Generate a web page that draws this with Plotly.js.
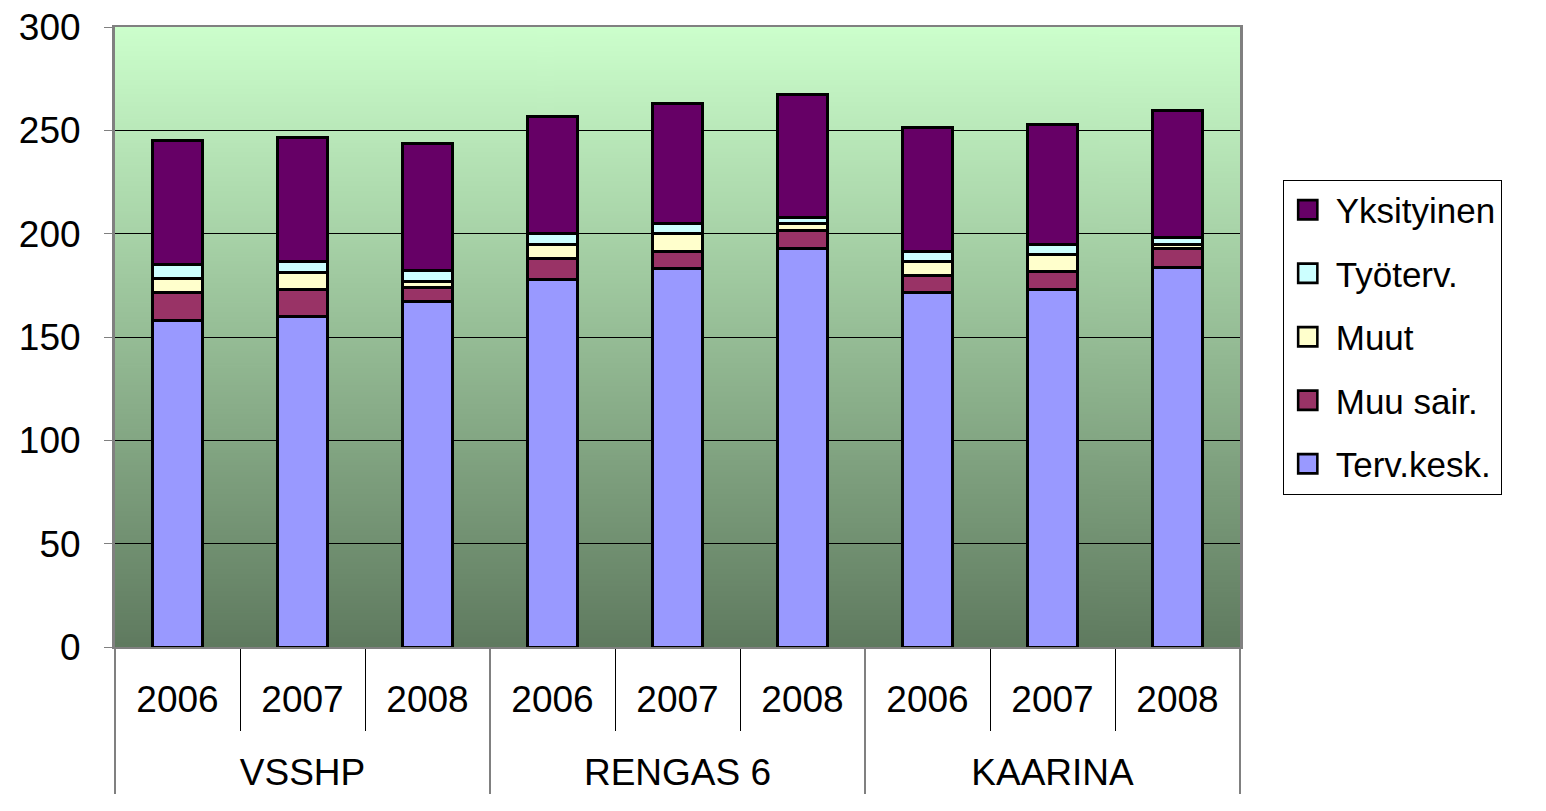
<!DOCTYPE html>
<html>
<head>
<meta charset="utf-8">
<script src="https://cdn.plot.ly/plotly-3.0.1.min.js"></script>
<style>html,body{margin:0;padding:0;background:#fff;}#chart{width:1546px;height:811px;}</style>
</head>
<body>
<div id="chart"></div>
<script>
const groups = ["VSSHP","VSSHP","VSSHP","RENGAS 6","RENGAS 6","RENGAS 6","KAARINA","KAARINA","KAARINA"];
const years = ["2006","2007","2008","2006","2007","2008","2006","2007","2008"];
const tervKesk   = [158, 160, 167, 178, 183, 193, 171.5, 173, 183.5];
const muuSair    = [13.5, 13, 7, 10, 8.5, 8.5, 8.5, 8.5, 9.5];
const muut       = [7, 8, 3, 7, 8.5, 3.5, 6.5, 8.5, 2];
const tyoterv    = [6.5, 5.5, 5, 5, 5, 3, 5, 5, 3];
const yksityinen = [60, 60, 61.5, 56.5, 58, 59.5, 60, 58, 61.5];
const seriesNames = ["Terv.kesk.","Muu sair.","Muut","Työterv.","Yksityinen"];
const seriesColors = ["#9999FF","#993366","#FFFFCC","#CCFFFF","#660066"];
const seriesValues = [tervKesk, muuSair, muut, tyoterv, yksityinen];

// gradient background image
const cv = document.createElement('canvas');
cv.width = 4; cv.height = 512;
const ctx = cv.getContext('2d');
const g = ctx.createLinearGradient(0,0,0,512);
g.addColorStop(0,'#CCFFCC');
g.addColorStop(1,'#5F7A5F');
ctx.fillStyle = g; ctx.fillRect(0,0,4,512);
const bg = cv.toDataURL('image/png');

const font = 'Liberation Sans, Arial, sans-serif';
// outer (group) labels get a leading blank line so they sit in their own lower row
const groupLabels = groups.map(s => '<br>' + s);
const traces = seriesValues.map((vals,i)=>({
  type:'bar',
  name: seriesNames[i],
  x:[groupLabels, years],
  y: vals,
  legendgroup: 'g'+i,
  legendrank: seriesNames.length - i,
  marker:{color: seriesColors[i], line:{color:'#000', width:3}},
  hoverinfo:'y+name'
}));

const layout = {
  width:1546, height:811,
  margin:{l:115, r:306, t:27, b:164},
  paper_bgcolor:'#fff',
  plot_bgcolor:'rgba(0,0,0,0)',
  barmode:'stack',
  bargap:0.6,
  font:{family:font, size:36, color:'#000'},
  images:[{source:bg, xref:'paper', yref:'paper', x:0, y:1, sizex:1, sizey:1, sizing:'stretch', xanchor:'left', yanchor:'top', layer:'below'}],
  xaxis:{
    type:'multicategory',
    tickfont:{family:font, size:37, color:'#000'},
    showline:true, linecolor:'#808080', linewidth:2,
    ticks:'outside', ticklen:82, tickcolor:'#000', tickwidth:1,
    ticklabelstandoff:19,
    showdividers:true, dividercolor:'#808080', dividerwidth:2,
    mirror:true,
    showgrid:false
  },
  yaxis:{
    range:[0,300], tickvals:[0,50,100,150,200,250,300],
    tickfont:{family:font, size:37, color:'#000'},
    showline:true, linecolor:'#808080', linewidth:3, mirror:true,
    ticks:'outside', ticklen:8, tickcolor:'#808080',
    ticklabelstandoff:16,
    gridcolor:'#000', gridwidth:1, zeroline:false
  },
  legend:{
    traceorder:'grouped', tracegroupgap:15,
    x:1.038, y:0.5, xanchor:'left', yanchor:'middle',
    itemwidth:42,
    bordercolor:'#000', borderwidth:1, bgcolor:'#fff',
    font:{family:font, size:35, color:'#000'}
  },
  showlegend:true
};
Plotly.newPlot('chart', traces, layout, {displayModeBar:false, staticPlot:true}).then(gd => {
  gd.querySelectorAll('.legend .legendpoints path').forEach(p => {
    p.setAttribute('transform','translate(24,0) scale(1.6)');
    p.style.strokeWidth = '1.6px';
  });
});
</script>
</body>
</html>
